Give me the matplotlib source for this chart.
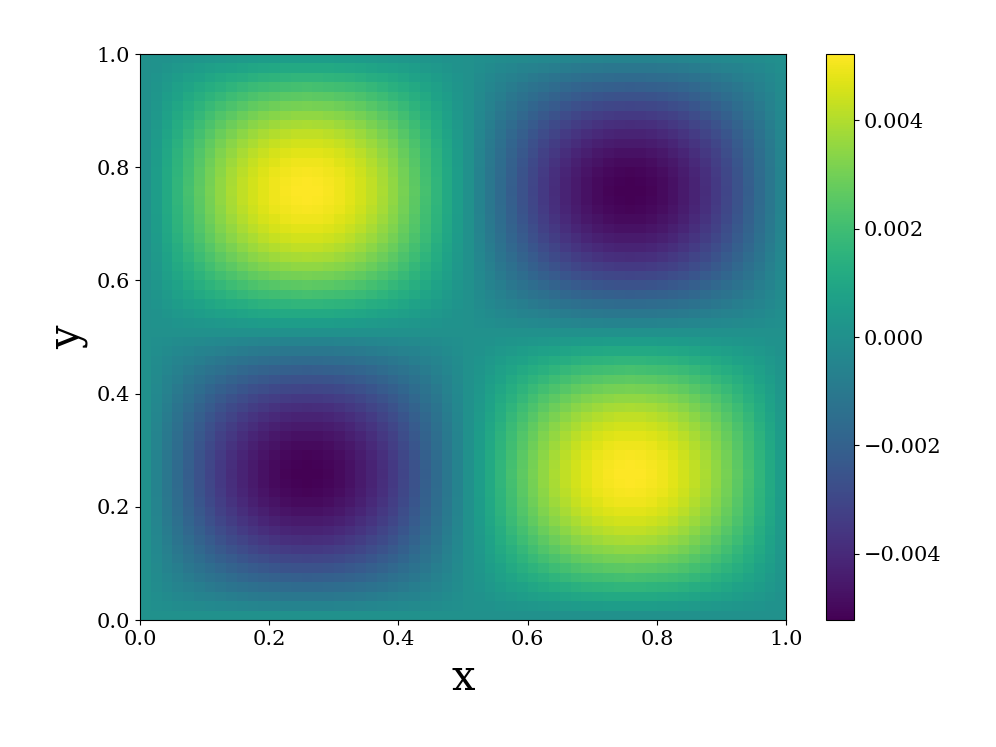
import numpy as np
import matplotlib.pyplot as plt

plt.rcParams['font.family'] = 'DejaVu Serif'

# grid cell edges (60 x 60 cells on the unit square)
n_cells = 60
edges = np.linspace(0.0, 1.0, n_cells + 1)

# profile of the field along one axis, read cell by cell (first half; second half is its negative)
half_profile = [0.000, 0.105, 0.208, 0.309, 0.407, 0.500, 0.588, 0.669, 0.743, 0.809,
                0.866, 0.914, 0.951, 0.978, 0.995, 1.000, 0.995, 0.978, 0.951, 0.914,
                0.866, 0.809, 0.743, 0.669, 0.588, 0.500, 0.407, 0.309, 0.208, 0.105]
profile = np.array(half_profile + [-v for v in half_profile])
amplitude = 0.00522

field = -amplitude * np.outer(profile, profile)  # rows = y, cols = x

fig = plt.figure(figsize=(9.96, 7.47), dpi=100)
ax = fig.add_axes([0.1406, 0.170, 0.6486, 0.7577])
cax = fig.add_axes([0.8293, 0.170, 0.0281, 0.7577])

mesh = ax.pcolormesh(edges, edges, field, cmap='viridis', shading='flat')
ax.set_xlim(0, 1)
ax.set_ylim(0, 1)
ax.set_xlabel('x', fontsize=30, labelpad=6)
ax.set_ylabel('y', fontsize=30, labelpad=6)
ax.tick_params(labelsize=15)

cb = fig.colorbar(mesh, cax=cax)
cb.set_ticks([-0.004, -0.002, 0.0, 0.002, 0.004])
cb.ax.tick_params(labelsize=15)

fig.savefig('out.png', dpi=100)
